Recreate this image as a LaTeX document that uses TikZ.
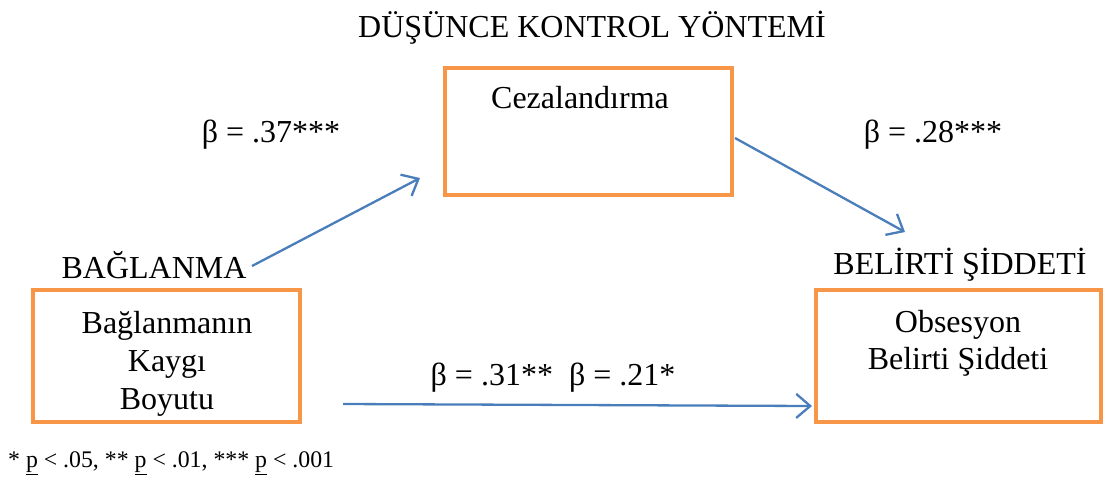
\documentclass[tikz,border=0pt]{standalone}
\usepackage{fontspec}
\setmainfont{Liberation Serif}
\usetikzlibrary{arrows.meta}
\definecolor{boxorange}{HTML}{F79646}
\definecolor{arrowblue}{HTML}{4A7EBB}
\tikzset{
  obox/.style={draw=boxorange, line width=4pt, fill=white},
  lbl/.style={font=\fontsize{32}{37}\selectfont, inner sep=0pt},
  boxtxt/.style={font=\fontsize{32}{37}\selectfont, align=center, inner sep=0pt},
  conn/.style={draw=arrowblue, line width=2.3pt, -{Straight Barb[length=14pt,width=24pt,line width=2.3pt]}},
}
\begin{document}
\begin{tikzpicture}[x=1pt,y=-1pt]
\useasboundingbox (0,0) rectangle (1107,477);
% boxes
\node[obox, minimum width=287pt, minimum height=127pt] (ceza) at (588.5,131.5) {};
\node[obox, minimum width=267pt, minimum height=132pt] (bag) at (166.5,356) {};
\node[obox, minimum width=285pt, minimum height=132pt] (obs) at (958.5,356) {};
% box texts
\node[lbl] (cezat) at (580,98) {Cezalandırma};
\node[boxtxt, font=\fontsize{32}{38}\selectfont] (bagt) at (167,364) {Bağlanmanın\\Kaygı\\Boyutu};
\node[boxtxt] (obst) at (958,343) {Obsesyon\\Belirti Şiddeti};
% headings
\node[lbl] (title) at (592,28) {DÜŞÜNCE KONTROL YÖNTEMİ};
\node[lbl] (baglanma) at (154,265) {BAĞLANMA};
\node[lbl] (belirti) at (960,265) {BELİRTİ ŞİDDETİ};
% coefficients
\node[lbl] (b1) at (271,135) {β = .37***};
\node[lbl] (b2) at (933,135) {β = .28***};
\node[lbl] (b3) at (553,378) {β = .31**\ \ β = .21*};
% connectors
\coordinate (a1s) at (252,266);
\coordinate (a1e) at (420,178);
\coordinate (a2s) at (735,138);
\coordinate (a2e) at (905,232);
\coordinate (a3s) at (343,404);
\coordinate (a3e) at (812,406);
\draw[conn] (a1s) -- (a1e);
\draw[conn] (a2s) -- (a2e);
\draw[conn] (a3s) -- (a3e);
% footnote
\node[anchor=west, inner sep=0pt, font=\fontsize{23.8}{28}\selectfont] (note) at (8,463) {* \underline{p} < .05, ** \underline{p} < .01, *** \underline{p} < .001};
\end{tikzpicture}
\end{document}
